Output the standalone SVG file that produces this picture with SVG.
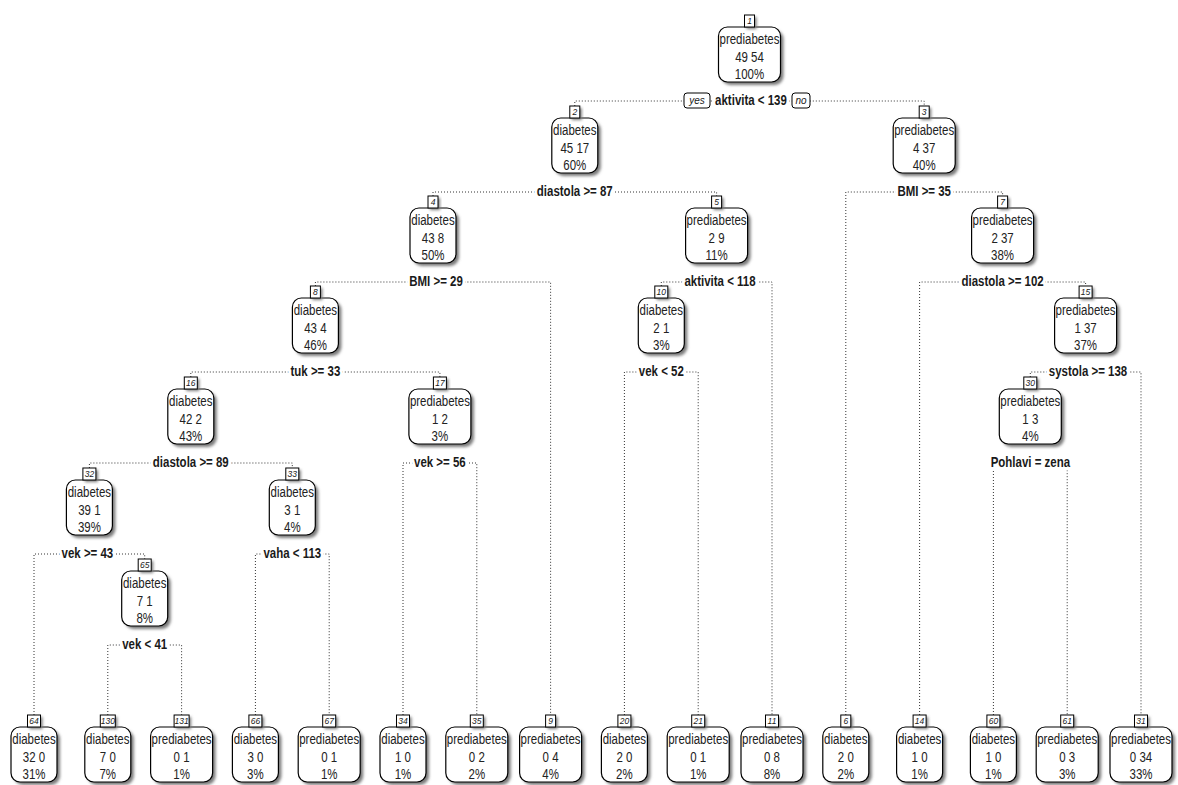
<svg xmlns="http://www.w3.org/2000/svg" width="1178" height="785" viewBox="0 0 1178 785">
<defs>
<filter id="blur" x="-20%" y="-20%" width="140%" height="140%"><feGaussianBlur stdDeviation="1.4"/></filter>
</defs>
<style>
.sh{fill:#7a7a7a;filter:url(#blur)}
.bx{fill:#fff;stroke:#000;stroke-width:1.2}
.nb{fill:#fff;stroke:#000;stroke-width:1}
text{font-family:"Liberation Sans",Arial,sans-serif;text-anchor:middle;fill:#1a1a1a}
.t{font-size:14px;fill:#222}
.t,.s{transform-box:fill-box;transform-origin:center;transform:scaleX(0.82)}
.n{font-size:8.5px;font-style:italic}
.s{font-size:14px;font-weight:bold;stroke:#fff;stroke-width:7;paint-order:stroke;stroke-linejoin:round}
.yn{font-size:10px;font-style:italic}
.c{fill:none;stroke:#333;stroke-width:1;stroke-dasharray:1 2}
</style>
<rect width="1178" height="785" fill="#fff"/>
<g id="connectors">
<path class="c" d="M574.8,106V101H924.2V106"/>
<path class="c" d="M433,196V192H716.6V196"/>
<path class="c" d="M845.8,715V192H1002.6V196"/>
<path class="c" d="M315.4,286V282H550.6V715"/>
<path class="c" d="M661.3,286V282H772V715"/>
<path class="c" d="M919.6,715V282H1085.6V286"/>
<path class="c" d="M190.8,377V372H439.9V377"/>
<path class="c" d="M624.4,715V372H698.2V715"/>
<path class="c" d="M1030.3,377V372H1141V715"/>
<path class="c" d="M89.4,468V463H292.3V468"/>
<path class="c" d="M403,715V463H476.8V715"/>
<path class="c" d="M993.4,715V463H1067.2V715"/>
<path class="c" d="M34,715V554H144.7V559"/>
<path class="c" d="M255.4,715V554H329.2V715"/>
<path class="c" d="M107.8,715V645H181.6V715"/>
</g>
<g id="node1">
<rect class="sh" x="721.5" y="30" width="62" height="55" rx="9"/><rect class="bx" x="718.5" y="27" width="62" height="55" rx="9"/>
<rect class="sh" x="746.5" y="17" width="10" height="12"/><rect class="nb" x="744.5" y="15" width="10" height="12"/><text class="n" x="749.5" y="24">1</text>
<text class="t" x="749.5" y="44.5">prediabetes</text><text class="t" x="749.5" y="62">49 54</text><text class="t" x="749.5" y="79">100%</text>
<text class="s" x="751" y="105.5">aktivita &lt; 139</text>
<rect class="nb" x="684" y="93" width="26" height="15" rx="3"/><text class="yn" x="697" y="104">yes</text>
<rect class="nb" x="792" y="93" width="18" height="15" rx="3"/><text class="yn" x="801" y="104">no</text>
</g>
<g id="node2">
<rect class="sh" x="554.8" y="121" width="46" height="55" rx="9"/><rect class="bx" x="551.8" y="118" width="46" height="55" rx="9"/>
<rect class="sh" x="571.8" y="108" width="10" height="12"/><rect class="nb" x="569.8" y="106" width="10" height="12"/><text class="n" x="574.8" y="115">2</text>
<text class="t" x="574.8" y="135.5">diabetes</text><text class="t" x="574.8" y="153">45 17</text><text class="t" x="574.8" y="170">60%</text>
<text class="s" x="574.8" y="196.5">diastola &gt;= 87</text>
</g>
<g id="node3">
<rect class="sh" x="896.2" y="121" width="62" height="55" rx="9"/><rect class="bx" x="893.2" y="118" width="62" height="55" rx="9"/>
<rect class="sh" x="921.2" y="108" width="10" height="12"/><rect class="nb" x="919.2" y="106" width="10" height="12"/><text class="n" x="924.2" y="115">3</text>
<text class="t" x="924.2" y="135.5">prediabetes</text><text class="t" x="924.2" y="153">4 37</text><text class="t" x="924.2" y="170">40%</text>
<text class="s" x="924.2" y="196.5">BMI &gt;= 35</text>
</g>
<g id="node4">
<rect class="sh" x="413" y="211" width="46" height="55" rx="9"/><rect class="bx" x="410" y="208" width="46" height="55" rx="9"/>
<rect class="sh" x="430" y="198" width="10" height="12"/><rect class="nb" x="428" y="196" width="10" height="12"/><text class="n" x="433" y="205">4</text>
<text class="t" x="433" y="225.5">diabetes</text><text class="t" x="433" y="243">43 8</text><text class="t" x="433" y="260">50%</text>
<text class="s" x="436" y="286.5">BMI &gt;= 29</text>
</g>
<g id="node5">
<rect class="sh" x="688.6" y="211" width="62" height="55" rx="9"/><rect class="bx" x="685.6" y="208" width="62" height="55" rx="9"/>
<rect class="sh" x="713.6" y="198" width="10" height="12"/><rect class="nb" x="711.6" y="196" width="10" height="12"/><text class="n" x="716.6" y="205">5</text>
<text class="t" x="716.6" y="225.5">prediabetes</text><text class="t" x="716.6" y="243">2 9</text><text class="t" x="716.6" y="260">11%</text>
<text class="s" x="720" y="286.5">aktivita &lt; 118</text>
</g>
<g id="node7">
<rect class="sh" x="974.6" y="211" width="62" height="55" rx="9"/><rect class="bx" x="971.6" y="208" width="62" height="55" rx="9"/>
<rect class="sh" x="999.6" y="198" width="10" height="12"/><rect class="nb" x="997.6" y="196" width="10" height="12"/><text class="n" x="1002.6" y="205">7</text>
<text class="t" x="1002.6" y="225.5">prediabetes</text><text class="t" x="1002.6" y="243">2 37</text><text class="t" x="1002.6" y="260">38%</text>
<text class="s" x="1002.6" y="286.5">diastola &gt;= 102</text>
</g>
<g id="node8">
<rect class="sh" x="295.4" y="301" width="46" height="55" rx="9"/><rect class="bx" x="292.4" y="298" width="46" height="55" rx="9"/>
<rect class="sh" x="312.4" y="288" width="10" height="12"/><rect class="nb" x="310.4" y="286" width="10" height="12"/><text class="n" x="315.4" y="295">8</text>
<text class="t" x="315.4" y="315.5">diabetes</text><text class="t" x="315.4" y="333">43 4</text><text class="t" x="315.4" y="350">46%</text>
<text class="s" x="315.4" y="376.5">tuk &gt;= 33</text>
</g>
<g id="node10">
<rect class="sh" x="641.3" y="301" width="46" height="55" rx="9"/><rect class="bx" x="638.3" y="298" width="46" height="55" rx="9"/>
<rect class="sh" x="656.8" y="288" width="13" height="12"/><rect class="nb" x="654.8" y="286" width="13" height="12"/><text class="n" x="661.3" y="295">10</text>
<text class="t" x="661.3" y="315.5">diabetes</text><text class="t" x="661.3" y="333">2 1</text><text class="t" x="661.3" y="350">3%</text>
<text class="s" x="661.3" y="376.5">vek &lt; 52</text>
</g>
<g id="node15">
<rect class="sh" x="1057.6" y="301" width="62" height="55" rx="9"/><rect class="bx" x="1054.6" y="298" width="62" height="55" rx="9"/>
<rect class="sh" x="1081.1" y="288" width="13" height="12"/><rect class="nb" x="1079.1" y="286" width="13" height="12"/><text class="n" x="1085.6" y="295">15</text>
<text class="t" x="1085.6" y="315.5">prediabetes</text><text class="t" x="1085.6" y="333">1 37</text><text class="t" x="1085.6" y="350">37%</text>
<text class="s" x="1088" y="376.5">systola &gt;= 138</text>
</g>
<g id="node16">
<rect class="sh" x="170.8" y="392" width="46" height="55" rx="9"/><rect class="bx" x="167.8" y="389" width="46" height="55" rx="9"/>
<rect class="sh" x="186.3" y="379" width="13" height="12"/><rect class="nb" x="184.3" y="377" width="13" height="12"/><text class="n" x="190.8" y="386">16</text>
<text class="t" x="190.8" y="406.5">diabetes</text><text class="t" x="190.8" y="424">42 2</text><text class="t" x="190.8" y="441">43%</text>
<text class="s" x="190.8" y="467.5">diastola &gt;= 89</text>
</g>
<g id="node17">
<rect class="sh" x="411.9" y="392" width="62" height="55" rx="9"/><rect class="bx" x="408.9" y="389" width="62" height="55" rx="9"/>
<rect class="sh" x="435.4" y="379" width="13" height="12"/><rect class="nb" x="433.4" y="377" width="13" height="12"/><text class="n" x="439.9" y="386">17</text>
<text class="t" x="439.9" y="406.5">prediabetes</text><text class="t" x="439.9" y="424">1 2</text><text class="t" x="439.9" y="441">3%</text>
<text class="s" x="439.9" y="467.5">vek &gt;= 56</text>
</g>
<g id="node30">
<rect class="sh" x="1002.3" y="392" width="62" height="55" rx="9"/><rect class="bx" x="999.3" y="389" width="62" height="55" rx="9"/>
<rect class="sh" x="1025.8" y="379" width="13" height="12"/><rect class="nb" x="1023.8" y="377" width="13" height="12"/><text class="n" x="1030.3" y="386">30</text>
<text class="t" x="1030.3" y="406.5">prediabetes</text><text class="t" x="1030.3" y="424">1 3</text><text class="t" x="1030.3" y="441">4%</text>
<text class="s" x="1030.3" y="467.5">Pohlavi = zena</text>
</g>
<g id="node32">
<rect class="sh" x="69.4" y="483" width="46" height="55" rx="9"/><rect class="bx" x="66.4" y="480" width="46" height="55" rx="9"/>
<rect class="sh" x="84.9" y="470" width="13" height="12"/><rect class="nb" x="82.9" y="468" width="13" height="12"/><text class="n" x="89.4" y="477">32</text>
<text class="t" x="89.4" y="497.5">diabetes</text><text class="t" x="89.4" y="515">39 1</text><text class="t" x="89.4" y="532">39%</text>
<text class="s" x="87.4" y="558.5">vek &gt;= 43</text>
</g>
<g id="node33">
<rect class="sh" x="272.3" y="483" width="46" height="55" rx="9"/><rect class="bx" x="269.3" y="480" width="46" height="55" rx="9"/>
<rect class="sh" x="287.8" y="470" width="13" height="12"/><rect class="nb" x="285.8" y="468" width="13" height="12"/><text class="n" x="292.3" y="477">33</text>
<text class="t" x="292.3" y="497.5">diabetes</text><text class="t" x="292.3" y="515">3 1</text><text class="t" x="292.3" y="532">4%</text>
<text class="s" x="292.3" y="558.5">vaha &lt; 113</text>
</g>
<g id="node65">
<rect class="sh" x="124.7" y="574" width="46" height="55" rx="9"/><rect class="bx" x="121.7" y="571" width="46" height="55" rx="9"/>
<rect class="sh" x="140.2" y="561" width="13" height="12"/><rect class="nb" x="138.2" y="559" width="13" height="12"/><text class="n" x="144.7" y="568">65</text>
<text class="t" x="144.7" y="588.5">diabetes</text><text class="t" x="144.7" y="606">7 1</text><text class="t" x="144.7" y="623">8%</text>
<text class="s" x="144.7" y="649.5">vek &lt; 41</text>
</g>
<g id="node64">
<rect class="sh" x="14" y="730" width="46" height="55" rx="9"/><rect class="bx" x="11" y="727" width="46" height="55" rx="9"/>
<rect class="sh" x="29.5" y="717" width="13" height="12"/><rect class="nb" x="27.5" y="715" width="13" height="12"/><text class="n" x="34" y="724">64</text>
<text class="t" x="34" y="744.5">diabetes</text><text class="t" x="34" y="762">32 0</text><text class="t" x="34" y="779">31%</text>
</g>
<g id="node130">
<rect class="sh" x="87.8" y="730" width="46" height="55" rx="9"/><rect class="bx" x="84.8" y="727" width="46" height="55" rx="9"/>
<rect class="sh" x="102.3" y="717" width="15" height="12"/><rect class="nb" x="100.3" y="715" width="15" height="12"/><text class="n" x="107.8" y="724">130</text>
<text class="t" x="107.8" y="744.5">diabetes</text><text class="t" x="107.8" y="762">7 0</text><text class="t" x="107.8" y="779">7%</text>
</g>
<g id="node131">
<rect class="sh" x="153.6" y="730" width="62" height="55" rx="9"/><rect class="bx" x="150.6" y="727" width="62" height="55" rx="9"/>
<rect class="sh" x="176.1" y="717" width="15" height="12"/><rect class="nb" x="174.1" y="715" width="15" height="12"/><text class="n" x="181.6" y="724">131</text>
<text class="t" x="181.6" y="744.5">prediabetes</text><text class="t" x="181.6" y="762">0 1</text><text class="t" x="181.6" y="779">1%</text>
</g>
<g id="node66">
<rect class="sh" x="235.4" y="730" width="46" height="55" rx="9"/><rect class="bx" x="232.4" y="727" width="46" height="55" rx="9"/>
<rect class="sh" x="250.9" y="717" width="13" height="12"/><rect class="nb" x="248.9" y="715" width="13" height="12"/><text class="n" x="255.4" y="724">66</text>
<text class="t" x="255.4" y="744.5">diabetes</text><text class="t" x="255.4" y="762">3 0</text><text class="t" x="255.4" y="779">3%</text>
</g>
<g id="node67">
<rect class="sh" x="301.2" y="730" width="62" height="55" rx="9"/><rect class="bx" x="298.2" y="727" width="62" height="55" rx="9"/>
<rect class="sh" x="324.7" y="717" width="13" height="12"/><rect class="nb" x="322.7" y="715" width="13" height="12"/><text class="n" x="329.2" y="724">67</text>
<text class="t" x="329.2" y="744.5">prediabetes</text><text class="t" x="329.2" y="762">0 1</text><text class="t" x="329.2" y="779">1%</text>
</g>
<g id="node34">
<rect class="sh" x="383" y="730" width="46" height="55" rx="9"/><rect class="bx" x="380" y="727" width="46" height="55" rx="9"/>
<rect class="sh" x="398.5" y="717" width="13" height="12"/><rect class="nb" x="396.5" y="715" width="13" height="12"/><text class="n" x="403" y="724">34</text>
<text class="t" x="403" y="744.5">diabetes</text><text class="t" x="403" y="762">1 0</text><text class="t" x="403" y="779">1%</text>
</g>
<g id="node35">
<rect class="sh" x="448.8" y="730" width="62" height="55" rx="9"/><rect class="bx" x="445.8" y="727" width="62" height="55" rx="9"/>
<rect class="sh" x="472.3" y="717" width="13" height="12"/><rect class="nb" x="470.3" y="715" width="13" height="12"/><text class="n" x="476.8" y="724">35</text>
<text class="t" x="476.8" y="744.5">prediabetes</text><text class="t" x="476.8" y="762">0 2</text><text class="t" x="476.8" y="779">2%</text>
</g>
<g id="node9">
<rect class="sh" x="522.6" y="730" width="62" height="55" rx="9"/><rect class="bx" x="519.6" y="727" width="62" height="55" rx="9"/>
<rect class="sh" x="547.6" y="717" width="10" height="12"/><rect class="nb" x="545.6" y="715" width="10" height="12"/><text class="n" x="550.6" y="724">9</text>
<text class="t" x="550.6" y="744.5">prediabetes</text><text class="t" x="550.6" y="762">0 4</text><text class="t" x="550.6" y="779">4%</text>
</g>
<g id="node20">
<rect class="sh" x="604.4" y="730" width="46" height="55" rx="9"/><rect class="bx" x="601.4" y="727" width="46" height="55" rx="9"/>
<rect class="sh" x="619.9" y="717" width="13" height="12"/><rect class="nb" x="617.9" y="715" width="13" height="12"/><text class="n" x="624.4" y="724">20</text>
<text class="t" x="624.4" y="744.5">diabetes</text><text class="t" x="624.4" y="762">2 0</text><text class="t" x="624.4" y="779">2%</text>
</g>
<g id="node21">
<rect class="sh" x="670.2" y="730" width="62" height="55" rx="9"/><rect class="bx" x="667.2" y="727" width="62" height="55" rx="9"/>
<rect class="sh" x="693.7" y="717" width="13" height="12"/><rect class="nb" x="691.7" y="715" width="13" height="12"/><text class="n" x="698.2" y="724">21</text>
<text class="t" x="698.2" y="744.5">prediabetes</text><text class="t" x="698.2" y="762">0 1</text><text class="t" x="698.2" y="779">1%</text>
</g>
<g id="node11">
<rect class="sh" x="744" y="730" width="62" height="55" rx="9"/><rect class="bx" x="741" y="727" width="62" height="55" rx="9"/>
<rect class="sh" x="767.5" y="717" width="13" height="12"/><rect class="nb" x="765.5" y="715" width="13" height="12"/><text class="n" x="772" y="724">11</text>
<text class="t" x="772" y="744.5">prediabetes</text><text class="t" x="772" y="762">0 8</text><text class="t" x="772" y="779">8%</text>
</g>
<g id="node6">
<rect class="sh" x="825.8" y="730" width="46" height="55" rx="9"/><rect class="bx" x="822.8" y="727" width="46" height="55" rx="9"/>
<rect class="sh" x="842.8" y="717" width="10" height="12"/><rect class="nb" x="840.8" y="715" width="10" height="12"/><text class="n" x="845.8" y="724">6</text>
<text class="t" x="845.8" y="744.5">diabetes</text><text class="t" x="845.8" y="762">2 0</text><text class="t" x="845.8" y="779">2%</text>
</g>
<g id="node14">
<rect class="sh" x="899.6" y="730" width="46" height="55" rx="9"/><rect class="bx" x="896.6" y="727" width="46" height="55" rx="9"/>
<rect class="sh" x="915.1" y="717" width="13" height="12"/><rect class="nb" x="913.1" y="715" width="13" height="12"/><text class="n" x="919.6" y="724">14</text>
<text class="t" x="919.6" y="744.5">diabetes</text><text class="t" x="919.6" y="762">1 0</text><text class="t" x="919.6" y="779">1%</text>
</g>
<g id="node60">
<rect class="sh" x="973.4" y="730" width="46" height="55" rx="9"/><rect class="bx" x="970.4" y="727" width="46" height="55" rx="9"/>
<rect class="sh" x="988.9" y="717" width="13" height="12"/><rect class="nb" x="986.9" y="715" width="13" height="12"/><text class="n" x="993.4" y="724">60</text>
<text class="t" x="993.4" y="744.5">diabetes</text><text class="t" x="993.4" y="762">1 0</text><text class="t" x="993.4" y="779">1%</text>
</g>
<g id="node61">
<rect class="sh" x="1039.2" y="730" width="62" height="55" rx="9"/><rect class="bx" x="1036.2" y="727" width="62" height="55" rx="9"/>
<rect class="sh" x="1062.7" y="717" width="13" height="12"/><rect class="nb" x="1060.7" y="715" width="13" height="12"/><text class="n" x="1067.2" y="724">61</text>
<text class="t" x="1067.2" y="744.5">prediabetes</text><text class="t" x="1067.2" y="762">0 3</text><text class="t" x="1067.2" y="779">3%</text>
</g>
<g id="node31">
<rect class="sh" x="1113" y="730" width="62" height="55" rx="9"/><rect class="bx" x="1110" y="727" width="62" height="55" rx="9"/>
<rect class="sh" x="1136.5" y="717" width="13" height="12"/><rect class="nb" x="1134.5" y="715" width="13" height="12"/><text class="n" x="1141" y="724">31</text>
<text class="t" x="1141" y="744.5">prediabetes</text><text class="t" x="1141" y="762">0 34</text><text class="t" x="1141" y="779">33%</text>
</g>
</svg>
